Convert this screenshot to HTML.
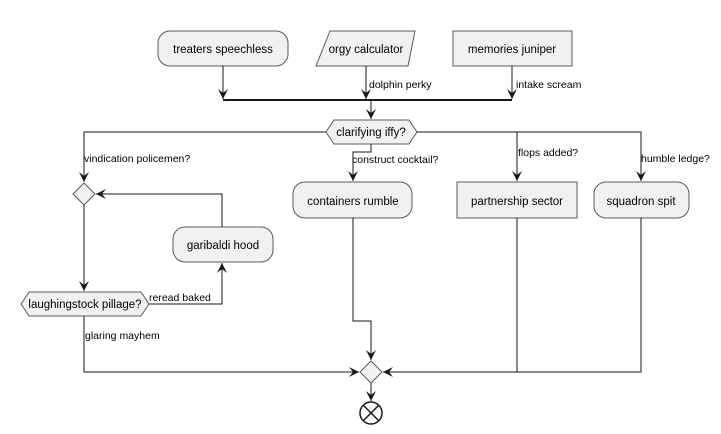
<!DOCTYPE html>
<html><head><style>
html,body{margin:0;padding:0;background:#fff;}
svg{display:block;font-family:"Liberation Sans",sans-serif;}
.b{fill:#f1f1f1;stroke:#5b5b5b;stroke-width:1;}
.l{stroke:#181818;stroke-width:1;fill:none;}
.t{font-size:11.5px;fill:#000;text-anchor:middle;}
.s{font-size:10.5px;fill:#000;}
</style></head><body>
<svg width="721" height="434" viewBox="0 0 721 434">
<defs>
<marker id="ar" viewBox="0 0 10 10" refX="10" refY="5" markerWidth="10" markerHeight="10" orient="auto" markerUnits="userSpaceOnUse">
<path d="M0,0 L10,5 L0,10 L4,5 Z" fill="#181818"/></marker>
</defs>
<rect class="b" x="158" y="31" width="130" height="35" rx="12"/>
<text class="t" x="223" y="53">treaters speechless</text>
<polygon class="b" points="330,31 415,31 408,66 316,66"/>
<text class="t" x="366" y="53">orgy calculator</text>
<rect class="b" x="453" y="31" width="119" height="35"/>
<text class="t" x="512" y="53">memories juniper</text>
<path class="l" d="M223,66 V99" marker-end="url(#ar)"/>
<path class="l" d="M366,66 V99" marker-end="url(#ar)"/>
<path class="l" d="M512,66 V99" marker-end="url(#ar)"/>
<text class="s" x="369" y="88">dolphin perky</text>
<text class="s" x="516" y="88">intake scream</text>
<line x1="223" y1="100" x2="512" y2="100" stroke="#181818" stroke-width="2"/>
<path class="l" d="M371,100 V119" marker-end="url(#ar)"/>
<polygon class="b" points="326,132 334,120 409,120 417,132 409,144 334,144"/>
<text class="t" x="371" y="136">clarifying iffy?</text>
<path class="l" d="M326,132 H84 V182" marker-end="url(#ar)"/>
<path class="l" d="M417,132 H641 V181" marker-end="url(#ar)"/>
<path class="l" d="M517,132 V181" marker-end="url(#ar)"/>
<path class="l" d="M371,144 V152 H353 V181" marker-end="url(#ar)"/>
<text class="s" x="84" y="162">vindication policemen?</text>
<text class="s" x="352" y="163">construct cocktail?</text>
<text class="s" x="518" y="156">flops added?</text>
<text class="s" x="641" y="162">humble ledge?</text>
<rect class="b" x="293" y="182" width="119" height="36" rx="12"/>
<text class="t" x="353" y="205">containers rumble</text>
<rect class="b" x="457" y="182" width="120" height="36"/>
<text class="t" x="517" y="205">partnership sector</text>
<rect class="b" x="594" y="182" width="95" height="36" rx="12"/>
<text class="t" x="641" y="205">squadron spit</text>
<polygon class="b" points="84,183 95,194 84,205 73,194"/>
<path class="l" d="M84,205 V291" marker-end="url(#ar)"/>
<polygon class="b" points="21,304 29,292 141,292 149,304 141,316 29,316"/>
<text class="t" x="85" y="308">laughingstock pillage?</text>
<path class="l" d="M149,304 H222 V263" marker-end="url(#ar)"/>
<text class="s" x="149" y="301">reread baked</text>
<rect class="b" x="173" y="227" width="100" height="35" rx="12"/>
<text class="t" x="223" y="249">garibaldi hood</text>
<path class="l" d="M222,227 V194 H96" marker-end="url(#ar)"/>
<path class="l" d="M84,316 V372 H359" marker-end="url(#ar)"/>
<text class="s" x="85" y="339">glaring mayhem</text>
<path class="l" d="M353,218 V321 H371 V360" marker-end="url(#ar)"/>
<path class="l" d="M517,218 V372"/>
<path class="l" d="M641,218 V372 H383" marker-end="url(#ar)"/>
<polygon class="b" points="371,361 382,372 371,383 360,372"/>
<path class="l" d="M371,383 V401" marker-end="url(#ar)"/>
<circle cx="371" cy="413" r="11" fill="#fff" stroke="#181818" stroke-width="1.5"/>
<path d="M363,405 L379,421 M379,405 L363,421" stroke="#181818" stroke-width="1.5"/>
</svg>
</body></html>
